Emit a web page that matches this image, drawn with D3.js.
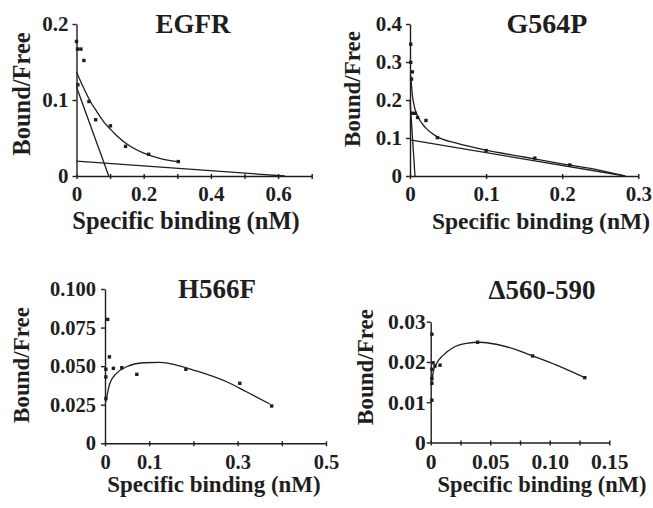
<!DOCTYPE html>
<html lang="en">
<head>
  <meta charset="UTF-8">
  <title>Scatchard plots</title>
  <script src="https://d3js.org/d3.v7.min.js"></script>
  <style>
    * { margin: 0; padding: 0; }
    body { background-color: #fff; }
    svg text { font-family: "Liberation Serif", "Times New Roman", serif; font-weight: bold; fill: #1e1e1e; }
  </style>
</head>
<body>
  <svg id="chart" width="653" height="508"></svg>

  <script>
    // EGFR
    var egfrX = [0, 0.003, 0.013, 0.022, 0.004, 0.037, 0.057, 0.101, 0.146, 0.215, 0.303];
    var egfrY = [0.177, 0.167, 0.167, 0.152, 0.12, 0.098, 0.074, 0.066, 0.039, 0.0285, 0.019];
    var egfrFitX = [0, 0.02, 0.04, 0.06, 0.08, 0.10, 0.12, 0.15, 0.2, 0.25, 0.3];
    var egfrFitY = [0.137, 0.117, 0.099, 0.085, 0.072, 0.062, 0.053, 0.042, 0.030, 0.023, 0.019];
    var egfrLines = [[[0, 0.117], [0.096, 0]], [[0, 0.0197], [0.62, 0]]];
    var egfrXTicks = [0, 0.1, 0.2, 0.3, 0.4, 0.5, 0.6, 0.7];
    var egfrXLabels = ["0", "", "0.2", "", "0.4", "", "0.6", ""];
    var egfrYTicks = [0, 0.1, 0.2];
    var egfrYLabels = ["0", "0.1", "0.2"];

    // G564P
    var g564X = [0.001, 0.001, 0.003, 0.002, 0.003, 0.007, 0.01, 0.021, 0.036, 0.1, 0.164, 0.21];
    var g564Y = [0.347, 0.299, 0.274, 0.255, 0.165, 0.165, 0.154, 0.146, 0.101, 0.067, 0.047, 0.029];
    var g564FitX = [0.001, 0.003, 0.006, 0.01, 0.02, 0.036, 0.06, 0.1, 0.15, 0.2, 0.25, 0.282];
    var g564FitY = [0.265, 0.215, 0.18, 0.158, 0.128, 0.103, 0.087, 0.068, 0.05, 0.032, 0.015, 0];
    var g564Lines = [[[0, 0.2], [0.0066, 0]], [[0, 0.095], [0.283, 0]]];
    var g564XTicks = [0, 0.1, 0.2, 0.3];
    var g564XLabels = ["0", "0.1", "0.2", "0.3"];
    var g564YTicks = [0, 0.1, 0.2, 0.3, 0.4];
    var g564YLabels = ["0", "0.1", "0.2", "0.3", "0.4"];

    // H566F
    var h566X = [0.006, 0.01, 0.002, 0.019, 0.038, 0.002, 0.072, 0.002, 0.183, 0.305, 0.377];
    var h566Y = [0.0803, 0.056, 0.048, 0.0486, 0.049, 0.043, 0.0447, 0.029, 0.048, 0.0389, 0.0242];
    var h566FitX = [0.002, 0.011, 0.026, 0.049, 0.087, 0.124, 0.162, 0.2, 0.275, 0.32, 0.373];
    var h566FitY = [0.027, 0.0389, 0.0453, 0.0496, 0.0522, 0.0525, 0.0507, 0.0475, 0.0399, 0.0334, 0.0255];
    var h566XTicks = [0, 0.1, 0.2, 0.3, 0.4, 0.5];
    var h566XLabels = ["0", "0.1", "", "0.3", "", "0.5"];
    var h566YTicks = [0, 0.025, 0.05, 0.075, 0.1];
    var h566YLabels = ["0", "0.025", "0.050", "0.075", "0.100"];

    // delta 560-590
    var delX = [0.001, 0.002, 0.001, 0.0036, 0.0078, 0.001, 0.001, 0.001, 0.0394, 0.0856, 0.1294];
    var delY = [0.0269, 0.0198, 0.0182, 0.019, 0.0192, 0.0159, 0.0147, 0.0105, 0.0249, 0.0215, 0.0161];
    var delFitX = [0.001, 0.0022, 0.005, 0.0106, 0.019, 0.030, 0.0414, 0.055, 0.0722, 0.0856, 0.1057, 0.1294];
    var delFitY = [0.0151, 0.0176, 0.0197, 0.0217, 0.0236, 0.0246, 0.0249, 0.0244, 0.023, 0.0215, 0.0192, 0.0161];
    var delXTicks = [0, 0.025, 0.05, 0.075, 0.1, 0.125, 0.15];
    var delXLabels = ["0", "", "0.05", "", "0.10", "", "0.15"];
    var delYTicks = [0, 0.01, 0.02, 0.03];
    var delYLabels = ["0", "0.01", "0.02", "0.03"];

    var svg = d3.select('#chart');
    var ink = '#1e1e1e';

    function drawPanel(p) {
      var x = d3.scaleLinear().domain(p.xDomain).range(p.xRange);
      var y = d3.scaleLinear().domain(p.yDomain).range(p.yRange);
      var g = svg.append('g');

      // axes
      var ax = g.append('g').attr('transform', 'translate(0,' + p.yRange[0] + ')')
        .call(d3.axisBottom(x).tickValues(p.xTicks).tickSize(5).tickSizeOuter(0)
          .tickFormat(function(d, i) { return p.xLabels[i]; }));
      ax.selectAll('.tick line').attr('y1', -2).attr('y2', 3);
      ax.selectAll('text').attr('y', p.xLabelY).attr('dy', '0.71em').style('font-size', p.tickFont + 'px');

      var ay = g.append('g').attr('transform', 'translate(' + p.xRange[0] + ',0)')
        .call(d3.axisLeft(y).tickValues(p.yTicks).tickSize(4).tickSizeOuter(0)
          .tickFormat(function(d, i) { return p.yLabels[i]; }));
      ay.selectAll('text').attr('x', -p.yLabelGap).style('font-size', p.tickFont + 'px');

      [ax, ay].forEach(function(a) {
        a.selectAll('.domain, .tick line').attr('stroke', ink).attr('stroke-width', 1.4);
        a.attr('font-family', null).attr('font-size', null);
        a.selectAll('text').attr('fill', ink);
      });

      // straight lines from the two-site fit
      (p.lines || []).forEach(function(l) {
        g.append('line')
          .attr('x1', x(l[0][0])).attr('y1', y(l[0][1]))
          .attr('x2', x(l[1][0])).attr('y2', y(l[1][1]))
          .attr('stroke', ink).attr('stroke-width', 1.3);
      });

      // fitted curve
      var fit = p.fitX.map(function(v, i) { return [v, p.fitY[i]]; });
      g.append('path')
        .attr('d', d3.line().x(function(d) { return x(d[0]); }).y(function(d) { return y(d[1]); })
          .curve(d3.curveMonotoneX)(fit))
        .attr('fill', 'none').attr('stroke', ink).attr('stroke-width', 1.3);

      // data points
      g.selectAll('rect.pt').data(p.ptX.map(function(v, i) { return [v, p.ptY[i]]; }))
        .enter().append('rect').attr('class', 'pt')
        .attr('x', function(d) { return x(d[0]) - 1.7; })
        .attr('y', function(d) { return y(d[1]) - 1.7; })
        .attr('width', 3.4).attr('height', 3.4).attr('fill', ink);

      // titles
      g.append('text').attr('x', p.title[1]).attr('y', p.title[2]).attr('text-anchor', 'middle')
        .style('font-size', p.titleFont + 'px').text(p.title[0]);
      g.append('text').attr('x', p.xTitle[0]).attr('y', p.xTitle[1]).attr('text-anchor', 'middle')
        .style('font-size', p.labelFont + 'px').text('Specific binding (nM)');
      g.append('text').attr('transform', 'translate(' + p.yTitle[0] + ',' + p.yTitle[1] + ') rotate(-90)')
        .attr('text-anchor', 'middle').attr('dy', '0.35em')
        .style('font-size', p.yLabelFont + 'px').text('Bound/Free');
    }

    drawPanel({
      xDomain: [0, 0.7], xRange: [76.5, 311.7], yDomain: [0, 0.2], yRange: [176, 24],
      xTicks: egfrXTicks, xLabels: egfrXLabels, yTicks: egfrYTicks, yLabels: egfrYLabels,
      ptX: egfrX, ptY: egfrY, fitX: egfrFitX, fitY: egfrFitY, lines: egfrLines,
      xLabelY: 10, yLabelGap: 8, tickFont: 21, titleFont: 27, labelFont: 24.5, yLabelFont: 24.5,
      title: ['EGFR', 193, 33], xTitle: [186, 229], yTitle: [21, 94]
    });
    drawPanel({
      xDomain: [0, 0.3], xRange: [410, 638.3], yDomain: [0, 0.4], yRange: [176, 24],
      xTicks: g564XTicks, xLabels: g564XLabels, yTicks: g564YTicks, yLabels: g564YLabels,
      ptX: g564X, ptY: g564Y, fitX: g564FitX, fitY: g564FitY, lines: g564Lines,
      xLabelY: 10, yLabelGap: 8, tickFont: 21, titleFont: 28, labelFont: 23.5, yLabelFont: 23,
      title: ['G564P', 547, 33], xTitle: [541, 229], yTitle: [352, 89]
    });
    drawPanel({
      xDomain: [0, 0.5], xRange: [105, 326], yDomain: [0, 0.1], yRange: [443.3, 289],
      xTicks: h566XTicks, xLabels: h566XLabels, yTicks: h566YTicks, yLabels: h566YLabels,
      ptX: h566X, ptY: h566Y, fitX: h566FitX, fitY: h566FitY,
      xLabelY: 11, yLabelGap: 9, tickFont: 20.5, titleFont: 27, labelFont: 23, yLabelFont: 23,
      title: ['H566F', 217, 298], xTitle: [214, 492], yTitle: [21, 365]
    });
    drawPanel({
      xDomain: [0, 0.15], xRange: [430.7, 609.3], yDomain: [0, 0.03], yRange: [442.5, 321.7],
      xTicks: delXTicks, xLabels: delXLabels, yTicks: delYTicks, yLabels: delYLabels,
      ptX: delX, ptY: delY, fitX: delFitX, fitY: delFitY,
      xLabelY: 11, yLabelGap: 5, tickFont: 21.5, titleFont: 27, labelFont: 22.5, yLabelFont: 23,
      title: ['\u0394560-590', 542, 299], xTitle: [542, 492], yTitle: [365, 367]
    });
  </script>
</body>
</html>
